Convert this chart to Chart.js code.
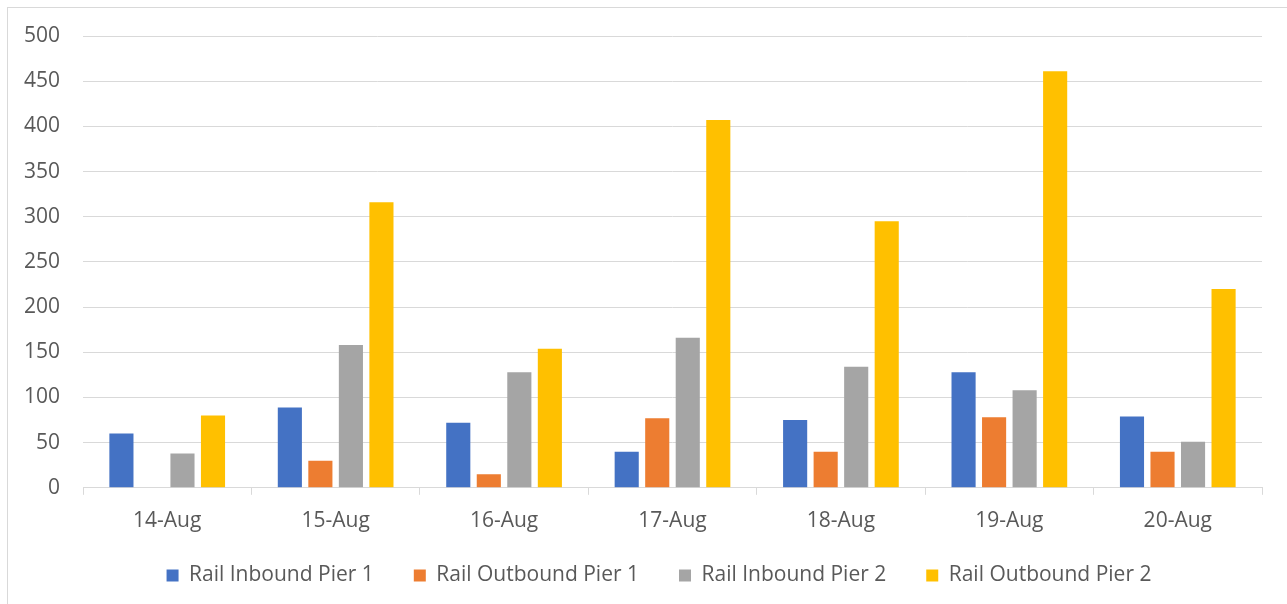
<!DOCTYPE html>
<html>
<head>
<meta charset="utf-8">
<script src="https://cdn.jsdelivr.net/npm/chart.js@4/dist/chart.umd.min.js"></script>
<style>
  html, body { margin: 0; padding: 0; background: #fff; }
  #wrap { position: relative; width: 1287px; height: 604px; overflow: hidden; }
  #frame { position: absolute; left: 7px; top: 7px; width: 1290px; height: 610px;
           border-left: 1px solid #d9d9d9; border-top: 1px solid #d9d9d9; }
  #graph { position: absolute; left: 0; top: 0; }
</style>
</head>
<body>
<div id="wrap">
  <div id="frame"></div>
  <canvas id="graph" width="1287" height="604"></canvas>
</div>
<script>
var days = ['14-Aug', '15-Aug', '16-Aug', '17-Aug', '18-Aug', '19-Aug', '20-Aug'];
var inboundPier1 = [60, 89, 72, 40, 75, 128, 79];
var outboundPier1 = [0, 30, 15, 77, 40, 78, 40];
var inboundPier2 = [38, 158, 128, 166, 134, 108, 51];
var outboundPier2 = [80, 316, 154, 407, 295, 461, 220];
var yTicks = [0, 50, 100, 150, 200, 250, 300, 350, 400, 450, 500];

var textColor = '#595959';
var gridColor = '#d9d9d9';
var font = { family: 'Open Sans', size: 21 };

function series(label, values, color) {
  return {
    label: label,
    data: values,
    backgroundColor: color,
    borderWidth: 0,
    categoryPercentage: 0.725,
    barPercentage: 0.79
  };
}

// nudge the legend to where the original sits (right and up a bit)
var legendNudge = {
  id: 'legendNudge',
  afterLayout: function(chart) {
    chart.legend.left += 36;
    chart.legend.top -= 23;
  }
};

var context = document.querySelector('#graph').getContext('2d');
var chart = new Chart(context, {
  type: 'bar',
  data: {
    labels: days,
    datasets: [
      series('Rail Inbound Pier 1', inboundPier1, '#4472c4'),
      series('Rail Outbound Pier 1', outboundPier1, '#ed7d31'),
      series('Rail Inbound Pier 2', inboundPier2, '#a5a5a5'),
      series('Rail Outbound Pier 2', outboundPier2, '#ffc000')
    ]
  },
  plugins: [legendNudge],
  options: {
    responsive: false,
    animation: false,
    layout: {
      padding: { left: 20, right: 25, top: 36, bottom: -15 }
    },
    plugins: {
      legend: {
        position: 'bottom',
        labels: {
          color: textColor,
          font: font,
          boxWidth: 12,
          boxHeight: 12,
          padding: 40
        }
      },
      tooltip: { enabled: false }
    },
    scales: {
      x: {
        grid: {
          offset: true,
          drawOnChartArea: false,
          color: gridColor,
          tickLength: 7
        },
        border: { color: gridColor },
        ticks: { color: textColor, font: font, padding: 14 }
      },
      y: {
        min: 0,
        max: 500,
        afterBuildTicks: function(scale) {
          scale.ticks = yTicks.map(function(v) { return { value: v }; });
        },
        grid: { color: gridColor, drawTicks: false },
        border: { display: false },
        ticks: { color: textColor, font: font, padding: 23 },
        afterFit: function(scale) { scale.width = 63; }
      }
    }
  }
});
</script>
</body>
</html>
